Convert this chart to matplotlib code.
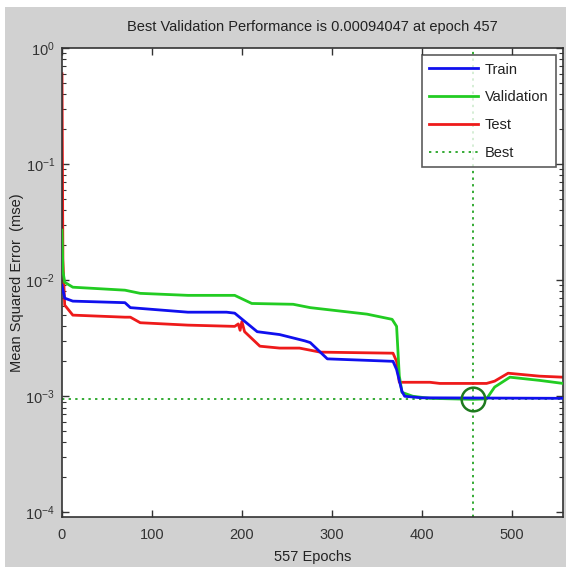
import matplotlib
matplotlib.use("Agg")
import matplotlib.pyplot as plt
from matplotlib.patches import Rectangle
from matplotlib.ticker import LogLocator, FixedLocator

plt.rcParams['font.family'] = ['Liberation Sans', 'DejaVu Sans']

# ---- data ----
train_epochs = [0, 3, 12, 70, 76, 140, 183, 192, 217, 242, 270, 276, 295, 368, 372, 378, 381, 400, 557]
train_mse = [0.0090, 0.0070, 0.0066, 0.0064, 0.0058, 0.0053, 0.0053, 0.0052, 0.0036, 0.0034, 0.0030, 0.0029,
             0.0021, 0.0020, 0.0017, 0.0011, 0.00100, 0.00097, 0.00096]

val_epochs = [0, 1, 3, 12, 70, 87, 140, 192, 211, 257, 276, 339, 367, 372, 375, 378, 390, 409, 457, 472, 481,
              498, 531, 557]
val_mse = [0.027, 0.012, 0.0096, 0.0087, 0.0082, 0.0077, 0.0074, 0.0074, 0.0063, 0.0062, 0.0058, 0.0051, 0.0046,
           0.0040, 0.0015, 0.00108, 0.0010, 0.00096, 0.00094047, 0.00095, 0.0012, 0.00146, 0.00137, 0.00129]

test_epochs = [0, 1, 3, 12, 70, 76, 87, 140, 192, 196, 198, 200, 203, 220, 242, 264, 287, 368, 372, 375, 409,
               420, 472, 481, 496, 531, 557]
test_mse = [0.6, 0.015, 0.0061, 0.0050, 0.0048, 0.0048, 0.0043, 0.0041, 0.0040, 0.0042, 0.0037, 0.0044, 0.0036,
            0.0027, 0.0026, 0.0026, 0.0024, 0.00235, 0.0020, 0.00132, 0.00132, 0.00129, 0.00129, 0.00135, 0.00158,
            0.00149, 0.00146]

best_epoch = 457
best_perf = 0.00094047
n_epochs = 557

title_text = "Best Validation Performance is 0.00094047 at epoch 457"
x_ticks = [0, 100, 200, 300, 400, 500]

# ---- figure ----
fig = plt.figure(figsize=(5.66, 5.67), dpi=100, facecolor='white')
fig.patches.append(Rectangle((5 / 566, 0), 1, 1 - 7 / 567, transform=fig.transFigure,
                             facecolor='#d1d1d1', edgecolor='none', zorder=-10))

ax = fig.add_axes([62 / 566, 1 - 517 / 567, (563 - 62) / 566, (517 - 48) / 567])
ax.set_facecolor('white')

ax.plot(train_epochs, train_mse, color='#1010ee', lw=2.0, label='Train', zorder=4)
ax.plot(val_epochs, val_mse, color='#22cc22', lw=2.0, label='Validation', zorder=3)
ax.plot(test_epochs, test_mse, color='#ee1a1a', lw=2.0, label='Test', zorder=2)
ax.axvline(best_epoch, color='#33aa33', lw=1.4, ls=(0, (1.2, 2.2)), zorder=1)
ax.axhline(best_perf, color='#33aa33', lw=1.4, ls=(0, (1.2, 2.2)), label='Best', zorder=1)
ax.plot([best_epoch], [best_perf], marker='o', ms=17, mfc='none', mec='#1e7a1e', mew=1.8, zorder=5,
        linestyle='none')

ax.set_yscale('log')
ax.set_xlim(0, n_epochs)
ax.set_ylim(10 ** -4.04, 1)
ax.xaxis.set_major_locator(FixedLocator(x_ticks))
ax.yaxis.set_major_locator(LogLocator(base=10, numticks=10))
ax.yaxis.set_minor_locator(LogLocator(base=10, subs=range(2, 10), numticks=10))
ax.tick_params(which='both', direction='in', top=True, right=True, labelsize=10.5, colors='#333333',
               labelcolor='#333333')
ax.tick_params(axis='x', which='major', pad=8)
ax.tick_params(axis='y', which='major', pad=5)
ax.tick_params(which='major', length=5, width=1)
ax.tick_params(which='minor', length=3, width=0.8)
for s in ax.spines.values():
    s.set_color('#333333')
    s.set_linewidth(1.2)

ax.set_title(title_text, fontsize=10.5, color='#222222', pad=12)
ax.set_xlabel('557 Epochs', fontsize=10.5, color='#222222', labelpad=6)
ax.set_ylabel('Mean Squared Error  (mse)', fontsize=10.5, color='#222222', labelpad=1)

leg = ax.legend(loc='upper right', fontsize=10.5, frameon=True, fancybox=False, handlelength=3.3,
                borderaxespad=0.5, labelspacing=0.95, handletextpad=0.5, borderpad=0.5)
leg.get_frame().set_edgecolor('#333333')
leg.get_frame().set_linewidth(1.2)
for t in leg.get_texts():
    t.set_color('#222222')

fig.savefig('out.png', dpi=100, facecolor=fig.get_facecolor())
